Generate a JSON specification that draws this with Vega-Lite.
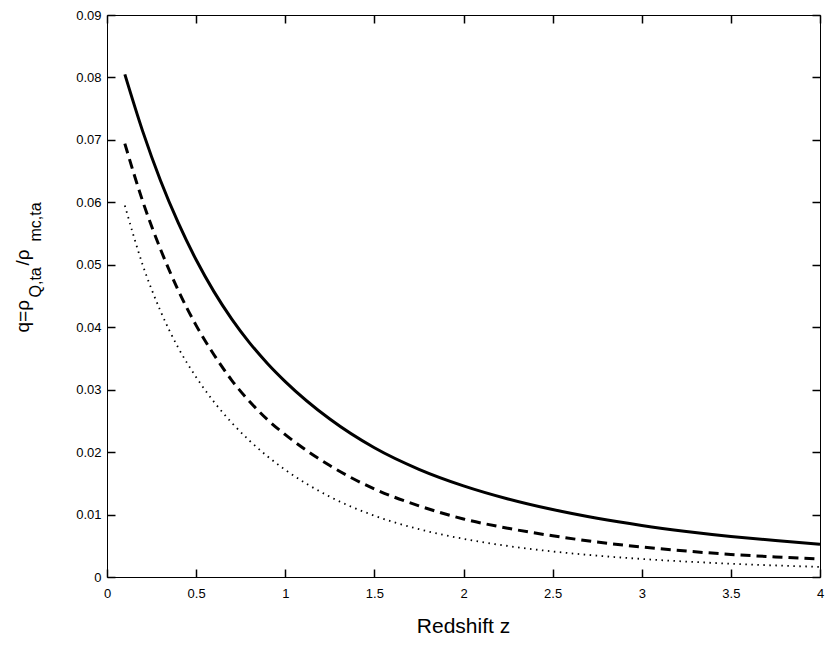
{
  "$schema": "https://vega.github.io/schema/vega-lite/v6.json",
  "width": 713,
  "height": 562,
  "autosize": "none",
  "padding": {"left": 107, "top": 15, "right": 10, "bottom": 71},
  "background": "white",
  "config": {
    "view": {"stroke": "black", "strokeWidth": 1},
    "font": "Liberation Sans"
  },
  "datasets": {
    "q": [
      {"z": 0.1, "q": 0.0805, "case": "solid"},
      {"z": 0.2, "q": 0.0714, "case": "solid"},
      {"z": 0.3, "q": 0.0635, "case": "solid"},
      {"z": 0.4, "q": 0.0567, "case": "solid"},
      {"z": 0.5, "q": 0.0508, "case": "solid"},
      {"z": 0.6, "q": 0.0457, "case": "solid"},
      {"z": 0.7, "q": 0.0413, "case": "solid"},
      {"z": 0.8, "q": 0.0375, "case": "solid"},
      {"z": 0.9, "q": 0.0342, "case": "solid"},
      {"z": 1.0, "q": 0.0313, "case": "solid"},
      {"z": 1.25, "q": 0.0253, "case": "solid"},
      {"z": 1.5, "q": 0.0207, "case": "solid"},
      {"z": 1.75, "q": 0.01725, "case": "solid"},
      {"z": 2.0, "q": 0.0146, "case": "solid"},
      {"z": 2.25, "q": 0.0125, "case": "solid"},
      {"z": 2.5, "q": 0.0108, "case": "solid"},
      {"z": 2.75, "q": 0.0094, "case": "solid"},
      {"z": 3.0, "q": 0.00825, "case": "solid"},
      {"z": 3.25, "q": 0.0073, "case": "solid"},
      {"z": 3.5, "q": 0.0065, "case": "solid"},
      {"z": 3.75, "q": 0.00583, "case": "solid"},
      {"z": 4.0, "q": 0.00525, "case": "solid"},
      {"z": 0.1, "q": 0.0694, "case": "dashed"},
      {"z": 0.2, "q": 0.0602, "case": "dashed"},
      {"z": 0.3, "q": 0.0525, "case": "dashed"},
      {"z": 0.4, "q": 0.0459, "case": "dashed"},
      {"z": 0.5, "q": 0.0403, "case": "dashed"},
      {"z": 0.6, "q": 0.0356, "case": "dashed"},
      {"z": 0.7, "q": 0.0315, "case": "dashed"},
      {"z": 0.8, "q": 0.0281, "case": "dashed"},
      {"z": 0.9, "q": 0.0252, "case": "dashed"},
      {"z": 1.0, "q": 0.0228, "case": "dashed"},
      {"z": 1.25, "q": 0.01785, "case": "dashed"},
      {"z": 1.5, "q": 0.0141, "case": "dashed"},
      {"z": 1.75, "q": 0.0114, "case": "dashed"},
      {"z": 2.0, "q": 0.0093, "case": "dashed"},
      {"z": 2.25, "q": 0.0078, "case": "dashed"},
      {"z": 2.5, "q": 0.0066, "case": "dashed"},
      {"z": 2.75, "q": 0.0056, "case": "dashed"},
      {"z": 3.0, "q": 0.0048, "case": "dashed"},
      {"z": 3.25, "q": 0.00415, "case": "dashed"},
      {"z": 3.5, "q": 0.00362, "case": "dashed"},
      {"z": 3.75, "q": 0.00322, "case": "dashed"},
      {"z": 4.0, "q": 0.00287, "case": "dashed"},
      {"z": 0.1, "q": 0.0595, "case": "dotted"},
      {"z": 0.2, "q": 0.0500, "case": "dotted"},
      {"z": 0.3, "q": 0.0426, "case": "dotted"},
      {"z": 0.4, "q": 0.0367, "case": "dotted"},
      {"z": 0.5, "q": 0.0320, "case": "dotted"},
      {"z": 0.6, "q": 0.02805, "case": "dotted"},
      {"z": 0.7, "q": 0.0247, "case": "dotted"},
      {"z": 0.8, "q": 0.02182, "case": "dotted"},
      {"z": 0.9, "q": 0.01933, "case": "dotted"},
      {"z": 1.0, "q": 0.01716, "case": "dotted"},
      {"z": 1.25, "q": 0.01286, "case": "dotted"},
      {"z": 1.5, "q": 0.00982, "case": "dotted"},
      {"z": 1.75, "q": 0.00766, "case": "dotted"},
      {"z": 2.0, "q": 0.00611, "case": "dotted"},
      {"z": 2.25, "q": 0.00496, "case": "dotted"},
      {"z": 2.5, "q": 0.00409, "case": "dotted"},
      {"z": 2.75, "q": 0.00342, "case": "dotted"},
      {"z": 3.0, "q": 0.00289, "case": "dotted"},
      {"z": 3.25, "q": 0.00247, "case": "dotted"},
      {"z": 3.5, "q": 0.00213, "case": "dotted"},
      {"z": 3.75, "q": 0.00185, "case": "dotted"},
      {"z": 4.0, "q": 0.00162, "case": "dotted"}
    ]
  },
  "data": {"name": "q"},
  "resolve": {"axis": {"x": "independent", "y": "independent"}},
  "layer": [
    {
      "transform": [{"filter": "datum.case === 'solid'"}],
      "mark": {"type": "line", "color": "black", "strokeWidth": 3, "interpolate": "monotone"},
      "encoding": {
        "x": {
          "field": "z", "type": "quantitative",
          "scale": {"domain": [0, 4], "nice": false, "zero": false},
          "axis": {
            "orient": "bottom", "values": [0, 0.5, 1, 1.5, 2, 2.5, 3, 3.5, 4], "format": ".1~f",
            "grid": false, "domain": false, "tickSize": -8, "tickWidth": 1.5, "tickColor": "black",
            "labelPadding": 18, "labelFlush": false,
            "labelFont": "Liberation Sans", "labelFontSize": 13, "labelColor": "black",
            "title": "Redshift z", "titleFont": "Liberation Sans", "titleFontWeight": "normal", "titleColor": "black",
            "titleFontSize": 21, "titleX": 356, "titleY": 55, "titleBaseline": "alphabetic"
          }
        },
        "y": {
          "field": "q", "type": "quantitative",
          "scale": {"domain": [0, 0.09], "nice": false},
          "axis": {
            "orient": "left", "values": [0, 0.01, 0.02, 0.03, 0.04, 0.05, 0.06, 0.07, 0.08, 0.09], "format": ".2~f",
            "grid": false, "domain": false, "tickSize": -8, "tickWidth": 1.5, "tickColor": "black",
            "labelPadding": 14, "labelFlush": false,
            "labelFont": "Liberation Sans", "labelFontSize": 13, "labelColor": "black",
            "title": "q=ρ", "titleFont": "Liberation Sans", "titleFontWeight": "normal", "titleColor": "black",
            "titleFontSize": 19, "titleAngle": 270, "titleAlign": "left", "titleBaseline": "alphabetic",
            "titleX": -79, "titleY": 317
          }
        }
      }
    },
    {
      "transform": [{"filter": "datum.case === 'dashed'"}],
      "mark": {"type": "line", "color": "black", "strokeWidth": 3, "strokeDash": [10, 6], "interpolate": "monotone"},
      "encoding": {
        "x": {
          "field": "z", "type": "quantitative",
          "axis": {
            "orient": "top", "values": [0, 0.5, 1, 1.5, 2, 2.5, 3, 3.5, 4],
            "grid": false, "domain": false, "tickSize": -8, "tickWidth": 1.5, "tickColor": "black", "labels": false,
            "title": "/ρ", "titleFont": "Liberation Sans", "titleFontWeight": "normal", "titleColor": "black",
            "titleFontSize": 19, "titleAngle": 270, "titleAlign": "left", "titleBaseline": "alphabetic",
            "titleX": -79, "titleY": 250
          }
        },
        "y": {
          "field": "q", "type": "quantitative",
          "axis": {
            "orient": "right", "values": [0, 0.01, 0.02, 0.03, 0.04, 0.05, 0.06, 0.07, 0.08, 0.09],
            "grid": false, "domain": false, "tickSize": -8, "tickWidth": 1.5, "tickColor": "black", "labels": false,
            "title": "Q,ta", "titleFont": "Liberation Sans", "titleFontWeight": "normal", "titleColor": "black",
            "titleFontSize": 16, "titleAngle": 270, "titleAlign": "left", "titleBaseline": "alphabetic",
            "titleX": -780, "titleY": 282
          }
        }
      }
    },
    {
      "transform": [{"filter": "datum.case === 'dotted'"}],
      "mark": {"type": "line", "color": "black", "strokeWidth": 1.8, "strokeDash": [1.5, 4.5], "interpolate": "monotone"},
      "encoding": {
        "x": {
          "field": "z", "type": "quantitative",
          "axis": {
            "orient": "bottom", "grid": false, "domain": false, "ticks": false, "labels": false,
            "title": "mc,ta", "titleFont": "Liberation Sans", "titleFontWeight": "normal", "titleColor": "black",
            "titleFontSize": 16, "titleAngle": 270, "titleAlign": "left", "titleBaseline": "alphabetic",
            "titleX": -67, "titleY": -336
          }
        },
        "y": {"field": "q", "type": "quantitative", "axis": null}
      }
    }
  ]
}
